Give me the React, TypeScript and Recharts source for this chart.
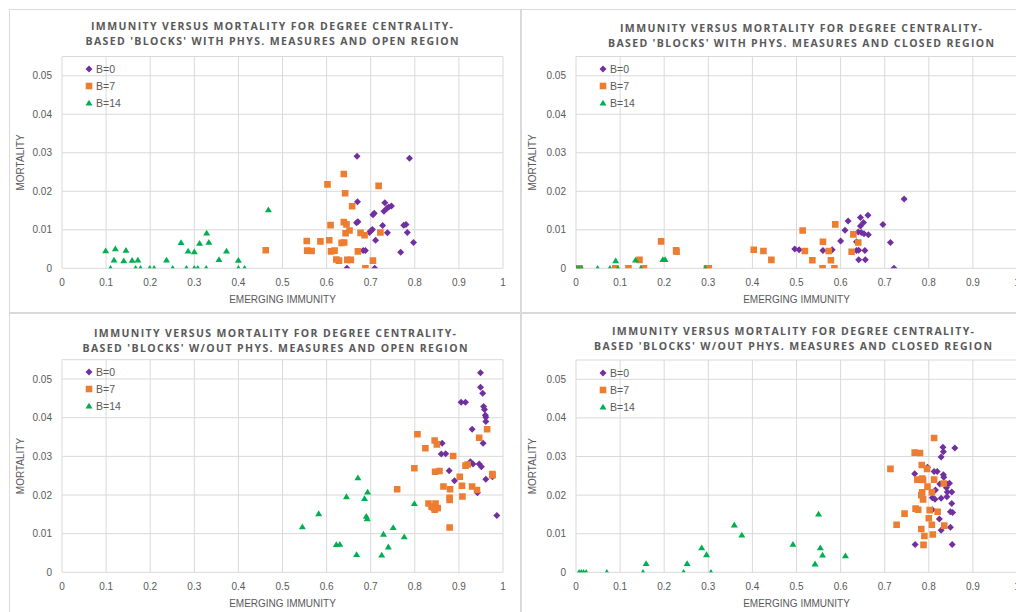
import { ScatterChart, Scatter, XAxis, YAxis, CartesianGrid, Legend } from "recharts";

type Pt = [number, number];

const xTicks = [0, 0.1, 0.2, 0.3, 0.4, 0.5, 0.6, 0.7, 0.8, 0.9, 1];
const yTicks = [0, 0.01, 0.02, 0.03, 0.04, 0.05];
const seriesNames = ["B=0", "B=7", "B=14"];
const seriesColors = ["#7030A0", "#ED7D31", "#00B050"];
const seriesShapes = ["diamond", "square", "triangle"] as const;

const titleLine1 = "IMMUNITY VERSUS MORTALITY FOR DEGREE CENTRALITY-";
const titleLine2 = [
  "BASED 'BLOCKS' WITH PHYS. MEASURES AND OPEN REGION",
  "BASED 'BLOCKS' WITH PHYS. MEASURES AND CLOSED REGION",
  "BASED 'BLOCKS' W/OUT PHYS. MEASURES AND OPEN REGION",
  "BASED 'BLOCKS' W/OUT PHYS. MEASURES AND CLOSED REGION",
];

// with phys. measures, open region
const physOpenB0: Pt[] = [
  [0.669, 0.0291], [0.788, 0.0286], [0.670, 0.0173], [0.732, 0.0170], [0.730, 0.0148], [0.737, 0.0156],
  [0.741, 0.0159], [0.747, 0.0162], [0.705, 0.0139], [0.708, 0.0143], [0.668, 0.0118], [0.671, 0.0121],
  [0.727, 0.0111], [0.775, 0.0112], [0.780, 0.0114], [0.697, 0.0093], [0.700, 0.0097], [0.704, 0.0101],
  [0.738, 0.0092], [0.783, 0.0093], [0.711, 0.0073], [0.797, 0.0067], [0.683, 0.0046], [0.688, 0.0046],
  [0.768, 0.0042], [0.646, 0], [0.709, 0],
];
const physOpenB7: Pt[] = [
  [0.462, 0.0047], [0.639, 0.0245], [0.602, 0.0218], [0.718, 0.0214], [0.642, 0.0195], [0.658, 0.0161],
  [0.609, 0.0112], [0.639, 0.0120], [0.645, 0.0114], [0.652, 0.0098], [0.643, 0.0091], [0.677, 0.0092],
  [0.686, 0.0086], [0.722, 0.0093], [0.555, 0.0071], [0.586, 0.0070], [0.606, 0.0073], [0.634, 0.0066],
  [0.640, 0.0067], [0.556, 0.0046], [0.566, 0.0045], [0.610, 0.0044], [0.618, 0.0046], [0.671, 0.0044],
  [0.622, 0.0023], [0.628, 0.0020], [0.647, 0.0022], [0.655, 0.0022], [0.705, 0.0020], [0.688, 0],
];
const physOpenB14: Pt[] = [
  [0.099, 0.0046], [0.121, 0.0051], [0.145, 0.0047], [0.118, 0.0022], [0.140, 0.0020], [0.159, 0.0021],
  [0.172, 0.0022], [0.110, 0], [0.167, 0], [0.178, 0], [0.199, 0], [0.209, 0], [0.237, 0.0022], [0.251, 0],
  [0.270, 0.0067], [0.286, 0.0045], [0.300, 0.0043], [0.282, 0], [0.300, 0], [0.308, 0], [0.312, 0.0065],
  [0.328, 0.0092], [0.333, 0.0068], [0.327, 0], [0.356, 0.0023], [0.373, 0.0045], [0.400, 0.0021],
  [0.400, 0], [0.414, 0], [0.468, 0.0152],
];

// with phys. measures, closed region
const physClosedB0: Pt[] = [
  [0.744, 0.0180], [0.662, 0.0138], [0.645, 0.0132], [0.617, 0.0123], [0.652, 0.0119], [0.645, 0.0110],
  [0.696, 0.0114], [0.610, 0.0099], [0.640, 0.0094], [0.647, 0.0093], [0.653, 0.0090], [0.663, 0.0087],
  [0.600, 0.0071], [0.636, 0.0069], [0.713, 0.0067], [0.496, 0.0050], [0.506, 0.0048], [0.560, 0.0046],
  [0.581, 0.0048], [0.636, 0.0046], [0.641, 0.0047], [0.655, 0.0046], [0.641, 0.0022], [0.656, 0.0022],
  [0.721, 0],
];
const physClosedB7: Pt[] = [
  [0.514, 0.0098], [0.588, 0.0114], [0.629, 0.0088], [0.193, 0.0070], [0.560, 0.0069], [0.640, 0.0067],
  [0.227, 0.0047], [0.228, 0.0043], [0.403, 0.0048], [0.425, 0.0045], [0.519, 0.0045], [0.573, 0.0045],
  [0.625, 0.0043], [0.443, 0.0022], [0.536, 0.0021], [0.578, 0.0021], [0.144, 0.0022], [0.559, 0],
  [0.586, 0], [0.297, 0], [0.301, 0], [0.154, 0], [0.119, 0], [0.089, 0], [0.002, 0], [0.008, 0],
];
const physClosedB14: Pt[] = [
  [0.001, 0], [0.007, 0], [0.013, 0], [0.049, 0], [0.077, 0], [0.095, 0], [0.090, 0.0020],
  [0.135, 0.0022], [0.147, 0], [0.197, 0.0023], [0.202, 0.0023], [0.293, 0],
];

// without phys. measures, open region
const noPhysOpenB0: Pt[] = [
  [0.949, 0.0516], [0.949, 0.0479], [0.954, 0.0463], [0.956, 0.0429], [0.958, 0.0421], [0.960, 0.0406],
  [0.961, 0.0401], [0.961, 0.0390], [0.905, 0.0440], [0.915, 0.0440], [0.930, 0.0370], [0.955, 0.0334],
  [0.862, 0.0334], [0.860, 0.0306], [0.870, 0.0307], [0.926, 0.0286], [0.932, 0.0280], [0.946, 0.0280],
  [0.951, 0.0273], [0.878, 0.0263], [0.890, 0.0237], [0.961, 0.0241], [0.976, 0.0247], [0.942, 0.0206],
  [0.986, 0.0147],
];
const noPhysOpenB7: Pt[] = [
  [0.806, 0.0357], [0.964, 0.0370], [0.946, 0.0348], [0.845, 0.0341], [0.850, 0.0331], [0.824, 0.0321],
  [0.887, 0.0301], [0.799, 0.0269], [0.846, 0.0260], [0.856, 0.0262], [0.915, 0.0276], [0.920, 0.0279],
  [0.976, 0.0254], [0.976, 0.0251], [0.902, 0.0247], [0.907, 0.0224], [0.930, 0.0222], [0.941, 0.0213],
  [0.865, 0.0222], [0.880, 0.0215], [0.760, 0.0215], [0.879, 0.0193], [0.879, 0.0187], [0.908, 0.0196],
  [0.831, 0.0178], [0.838, 0.0170], [0.843, 0.0167], [0.847, 0.0178], [0.845, 0.0162], [0.852, 0.0166],
  [0.879, 0.0116],
];
const noPhysOpenB14: Pt[] = [
  [0.545, 0.0118], [0.582, 0.0152], [0.622, 0.0072], [0.630, 0.0073], [0.645, 0.0196], [0.668, 0.0046],
  [0.671, 0.0245], [0.686, 0.0191], [0.693, 0.0208], [0.690, 0.0145], [0.692, 0.0139], [0.725, 0.0045],
  [0.729, 0.0099], [0.740, 0.0066], [0.751, 0.0116], [0.776, 0.0092], [0.799, 0.0178],
];

// without phys. measures, closed region
const noPhysClosedB0: Pt[] = [
  [0.859, 0.0322], [0.832, 0.0324], [0.833, 0.0312], [0.828, 0.0299], [0.797, 0.0272], [0.812, 0.0261],
  [0.819, 0.0261], [0.833, 0.0253], [0.834, 0.0246], [0.768, 0.0255], [0.825, 0.0229], [0.842, 0.0228],
  [0.847, 0.0231], [0.840, 0.0219], [0.815, 0.0213], [0.842, 0.0208], [0.852, 0.0208], [0.808, 0.0193],
  [0.814, 0.0189], [0.828, 0.0192], [0.841, 0.0196], [0.852, 0.0178], [0.808, 0.0162], [0.849, 0.0157],
  [0.854, 0.0155], [0.824, 0.0138], [0.849, 0.0117], [0.828, 0.0109], [0.769, 0.0072], [0.853, 0.0072],
];
const noPhysClosedB7: Pt[] = [
  [0.812, 0.0348], [0.768, 0.0310], [0.780, 0.0309], [0.713, 0.0268], [0.784, 0.0278], [0.796, 0.0268],
  [0.774, 0.0240], [0.785, 0.0243], [0.787, 0.0239], [0.812, 0.0240], [0.834, 0.0230], [0.797, 0.0222],
  [0.785, 0.0207], [0.783, 0.0200], [0.807, 0.0207], [0.787, 0.0189], [0.770, 0.0165], [0.776, 0.0162],
  [0.802, 0.0161], [0.820, 0.0157], [0.745, 0.0152], [0.800, 0.0140], [0.807, 0.0123], [0.727, 0.0123],
  [0.835, 0.0121], [0.783, 0.0112], [0.790, 0.0094], [0.809, 0.0098], [0.788, 0.0071],
];
const noPhysClosedB14: Pt[] = [
  [0.007, 0], [0.012, 0], [0.017, 0], [0.023, 0], [0.070, 0], [0.152, 0], [0.159, 0.0023], [0.244, 0],
  [0.252, 0.0023], [0.285, 0.0064], [0.296, 0.0046], [0.306, 0], [0.359, 0.0123], [0.376, 0.0097],
  [0.492, 0.0073], [0.542, 0.0022], [0.550, 0.0151], [0.554, 0.0064], [0.559, 0.0045], [0.611, 0.0043],
];

const panelSeries: Pt[][][] = [
  [physOpenB0, physOpenB7, physOpenB14],
  [physClosedB0, physClosedB7, physClosedB14],
  [noPhysOpenB0, noPhysOpenB7, noPhysOpenB14],
  [noPhysClosedB0, noPhysClosedB7, noPhysClosedB14],
];

// layout of the four panels (px)
const panels = [
  { left: 9, top: 9, plotLeft: 53, plotTop: 47.5, titleX: 263, titleY: 16.7, w1: 362, w2: 373 },
  { left: 521, top: 9, plotLeft: 55, plotTop: 47.5, titleX: 280, titleY: 18.7, w1: 362, w2: 386 },
  { left: 9, top: 313, plotLeft: 53, plotTop: 46.7, titleX: 266, titleY: 20, w1: 362, w2: 385 },
  { left: 521, top: 313, plotLeft: 55, plotTop: 47, titleX: 272, titleY: 17.7, w1: 362, w2: 398 },
];

const W = 512;
const H = 304;
const PLOT_W = 441;
const PLOT_BOTTOM = 259.3;
const FONT = "'Liberation Sans', Arial, sans-serif";
const GREY = "#595959";

function markerPath(kind: string, cx: number, cy: number) {
  if (kind === "diamond") return `M${cx},${cy - 3.5}L${cx + 3.5},${cy}L${cx},${cy + 3.5}L${cx - 3.5},${cy}Z`;
  if (kind === "square") return `M${cx - 3.3},${cy - 3.3}h6.6v6.6h-6.6Z`;
  return `M${cx},${cy - 3.2}L${cx + 3.5},${cy + 2.6}L${cx - 3.5},${cy + 2.6}Z`;
}

const renderLegend = (props: any) => {
  const items = [...(props.payload || [])].sort(
    (a: any, b: any) => seriesNames.indexOf(a.value) - seriesNames.indexOf(b.value)
  );
  return (
    <div style={{ fontFamily: FONT, fontSize: 10.5, color: GREY }}>
      {items.map((entry: any, i: number) => (
        <div key={i} style={{ height: 17, display: "flex", alignItems: "center" }}>
          <svg width={8} height={8} style={{ marginRight: 3 }}>
            <path d={markerPath(entry.type, 4, 4)} fill={entry.color} />
          </svg>
          <span>{entry.value}</span>
        </div>
      ))}
    </div>
  );
};

function Panel({ index }: { index: number }) {
  const p = panels[index];
  const xAxisHeight = H - PLOT_BOTTOM;
  const series = panelSeries[index];
  return (
    <div style={{ position: "absolute", left: p.left, top: p.top, width: W, height: H, background: "#fff" }}>
      <div style={{ position: "absolute", inset: 0, border: "1px solid #d9d9d9", pointerEvents: "none" }} />
      <ScatterChart
        width={W}
        height={H}
        margin={{ top: p.plotTop, right: W - p.plotLeft - PLOT_W, bottom: 0, left: 0 }}
      >
        <CartesianGrid stroke="#d9d9d9" />
        <XAxis
          type="number"
          dataKey="x"
          domain={[0, 1]}
          ticks={xTicks}
          interval={0}
          allowDataOverflow
          height={xAxisHeight}
          axisLine={false}
          tickLine={false}
          tickMargin={5}
          tick={{ fill: GREY, fontSize: 10, fontFamily: FONT }}
          label={{ value: "EMERGING IMMUNITY", position: "insideBottom", offset: 10, fill: GREY, fontSize: 10, fontFamily: FONT }}
        />
        <YAxis
          type="number"
          dataKey="y"
          domain={[0, 0.055]}
          ticks={yTicks}
          interval={0}
          allowDataOverflow
          width={p.plotLeft}
          axisLine={false}
          tickLine={false}
          tickMargin={4}
          tick={{ fill: GREY, fontSize: 10, fontFamily: FONT }}
          label={{
            value: "MORTALITY",
            angle: -90,
            position: "insideLeft",
            offset: 11,
            fill: GREY,
            fontSize: 10,
            fontFamily: FONT,
            style: { textAnchor: "middle" },
          }}
        />
        <Legend
          layout="vertical"
          align="center"
          verticalAlign="middle"
          content={renderLegend}
          wrapperStyle={{ left: p.plotLeft + 23, top: p.plotTop + 4, width: 60 }}
        />
        {series.map((pts, i) => (
          <Scatter
            key={seriesNames[i]}
            name={seriesNames[i]}
            data={pts.map(([x, y]) => ({ x, y }))}
            fill={seriesColors[i]}
            legendType={seriesShapes[i]}
            isAnimationActive={false}
            shape={(s: any) => <path d={markerPath(seriesShapes[i], s.cx, s.cy)} fill={seriesColors[i]} />}
          />
        ))}
      </ScatterChart>
      <svg width={W} height={45} style={{ position: "absolute", left: 0, top: 0, pointerEvents: "none" }}>
        <g fontFamily="'Open Sans', sans-serif" fontWeight="bold" fontSize={10.5} fill={GREY} textAnchor="middle">
          <text x={p.titleX} y={p.titleY + 3.8} textLength={p.w1} lengthAdjust="spacing">
            {titleLine1}
          </text>
          <text x={p.titleX} y={p.titleY + 19.1} textLength={p.w2} lengthAdjust="spacing">
            {titleLine2[index]}
          </text>
        </g>
      </svg>
    </div>
  );
}

export default function App() {
  return (
    <div style={{ position: "fixed", left: 0, top: 0, width: 1016, height: 612, overflow: "hidden", background: "#fff" }}>
      {panels.map((_, i) => (
        <Panel key={i} index={i} />
      ))}
    </div>
  );
}
